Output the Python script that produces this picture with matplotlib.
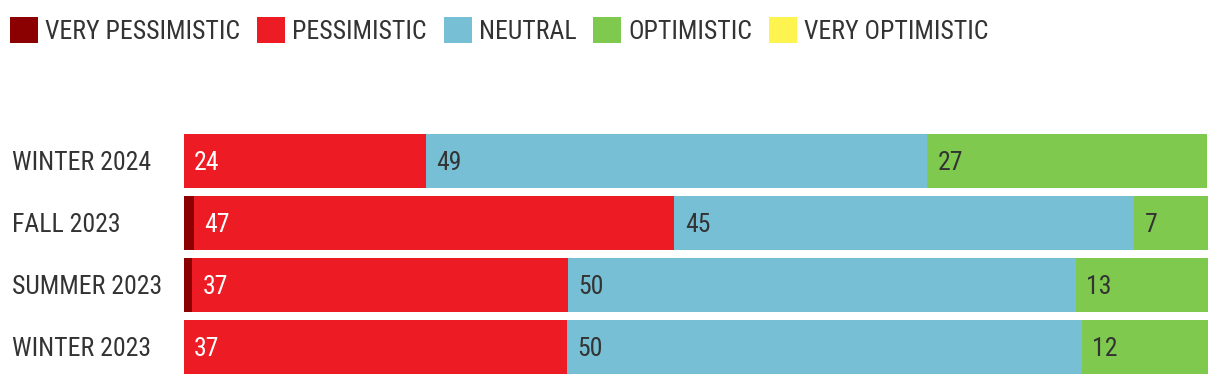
import matplotlib
matplotlib.use("Agg")
import matplotlib.pyplot as plt
from matplotlib import font_manager
from matplotlib.patches import Patch

fonts = font_manager.fontManager.ttflist
names = {f.name for f in fonts}
STRETCH = "normal"
if "Roboto Condensed" in names:
    FONT = "Roboto Condensed"
elif any(f.name == "Roboto" and f.stretch == "condensed" for f in fonts):
    FONT, STRETCH = "Roboto", "condensed"
elif "Archivo Narrow" in names:
    FONT = "Archivo Narrow"
elif "Liberation Sans Narrow" in names:
    FONT = "Liberation Sans Narrow"
else:
    FONT = "Roboto"
plt.rcParams['font.family'] = [FONT, 'DejaVu Sans']
plt.rcParams['font.stretch'] = STRETCH

categories = ["WINTER 2024", "FALL 2023", "SUMMER 2023", "WINTER 2023"]
series_names = ["VERY PESSIMISTIC", "PESSIMISTIC", "NEUTRAL", "OPTIMISTIC", "VERY OPTIMISTIC"]
very_pessimistic = [0.0, 1.0, 0.8, 0.0]
pessimistic = [23.6, 46.9, 36.7, 37.4]
neutral = [49.0, 44.9, 49.6, 50.3]
optimistic = [27.3, 7.2, 12.9, 12.3]
very_optimistic = [0.0, 0.0, 0.0, 0.0]

colors = ["#8B0000", "#ED1C24", "#77BFD4", "#7EC94E", "#FFF34F"]
text_colors = ["white", "white", "#333333", "#333333", "#333333"]
series = [very_pessimistic, pessimistic, neutral, optimistic, very_optimistic]

W, H = 1220, 384
FS = 18.5
EM = FS * 100 / 72
fig = plt.figure(figsize=(W / 100, H / 100), dpi=100)
ax = fig.add_axes([184 / W, (H - 378) / H, 1024 / W, 248 / H])

left = [0.0] * len(categories)
for vals, col, tc in zip(series, colors, text_colors):
    ax.barh(range(len(categories)), vals, left=left, height=54 / 62, color=col, linewidth=0)
    for i, v in enumerate(vals):
        if round(v) >= 2:
            ax.text(left[i] + 1.0, i + 0.03, f"{round(v)}", color=tc, fontsize=FS,
                    va="center", ha="left")
    left = [l + v for l, v in zip(left, vals)]

ax.set_xlim(0, 100)
ax.set_ylim(3.5, -0.5)
ax.set_yticks(range(len(categories)))
ax.set_yticklabels(categories, fontsize=FS, color="#333333", ha="left")
ax.tick_params(axis="y", length=0, pad=(184 - 12) * 0.72)
ax.set_xticks([])
for s in ax.spines.values():
    s.set_visible(False)

handles = [Patch(facecolor=c, edgecolor="none") for c in colors]
fig.legend(handles, series_names, loc="upper left", bbox_to_anchor=(10 / W, 1 - 17 / H),
           ncol=5, frameon=False, fontsize=FS, handlelength=28 / EM, handleheight=1.18,
           handletextpad=7 / EM, columnspacing=17 / EM, labelcolor="#333333", borderaxespad=0,
           borderpad=0)

fig.savefig("out.png", dpi=100)
